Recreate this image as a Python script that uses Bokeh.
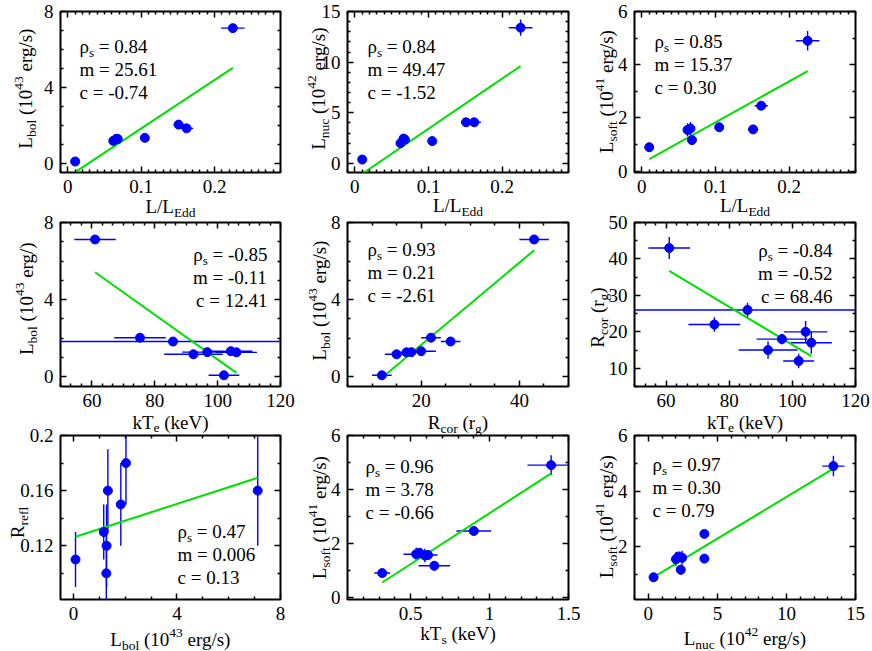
import math
from bokeh.plotting import figure
from bokeh.layouts import gridplot, column
from bokeh.models import (FixedTicker, LinearAxis, Label, Range1d, NumeralTickFormatter,
                          CustomJSTickFormatter)
from bokeh.embed import file_html
from bokeh.resources import INLINE

FONT = "Liberation Serif"
BLUE = "#0000ff"
GREEN = "#00e000"

# ---------------- data: eight sources ----------------
l_edd    = [0.225, 0.151, 0.162, 0.062, 0.066, 0.010, 0.105, 0.068]
l_edd_e  = [0.016, 0.007, 0.009, 0.003, 0.003, 0.002, 0.004, 0.003]
l_bol    = [7.12, 2.03, 1.83, 1.17, 1.28, 0.08, 1.33, 1.27]
l_bol_e  = [0.10, 0.06, 0.06, 0.05, 0.05, 0.03, 0.05, 0.05]
l_nuc    = [13.4, 4.06, 4.06, 2.00, 2.45, 0.38, 2.20, 2.35]
l_nuc_e  = [0.80, 0.30, 0.30, 0.10, 0.10, 0.05, 0.10, 0.10]
l_soft   = [4.90, 1.57, 2.46, 1.55, 1.60, 0.90, 1.65, 1.17]
l_soft_e = [0.37, 0.15, 0.10, 0.25, 0.25, 0.06, 0.12, 0.18]
kte      = [61.0, 75.3, 85.8, 92.3, 96.7, 102.0, 104.2, 106.0]
kte_e    = [6.6, 8.2, 150.0, 9.3, 8.0, 4.9, 6.9, 6.5]
r_cor    = [43.0, 22.0, 26.0, 15.0, 18.0, 12.0, 20.0, 17.0]
r_cor_e  = [3.0, 2.0, 2.0, 2.4, 1.5, 2.0, 3.0, 3.0]
kts      = [1.39, 0.61, 0.90, 0.59, 0.535, 0.32, 0.556, 0.65]
kts_e    = [0.15, 0.06, 0.11, 0.05, 0.08, 0.05, 0.05, 0.10]
r_refl   = [0.16, 0.18, 0.15, 0.13, 0.12, 0.11, 0.16, 0.10]
r_refl_e = [0.04, 0.03, 0.03, 0.02, 0.03, 0.02, 0.03, 0.03]

# printed statistics per panel
rho_txt   = ["0.84", "0.84", "0.85", "-0.85", "0.93", "-0.84", "0.47", "0.96", "0.97"]
slope_txt = ["25.61", "49.47", "15.37", "-0.11", "0.21", "-0.52", "0.006", "3.78", "0.30"]
icpt_txt  = ["-0.74", "-1.52", "0.30", "12.41", "-2.61", "68.46", "0.13", "-0.66", "0.79"]
# fitted lines as drawn
slope = [25.61, 49.47, 15.37, -0.116, 0.213, -0.52, 0.00607, 3.78, 0.30]
icpt  = [-0.74, -1.52, 0.30, 12.50, -2.60, 68.46, 0.1261, -0.66, 0.79]

pairs = [
    (l_edd, l_edd_e, l_bol, l_bol_e),
    (l_edd, l_edd_e, l_nuc, l_nuc_e),
    (l_edd, l_edd_e, l_soft, l_soft_e),
    (kte, kte_e, l_bol, l_bol_e),
    (r_cor, r_cor_e, l_bol, l_bol_e),
    (kte, kte_e, r_cor, r_cor_e),
    (l_bol, l_bol_e, r_refl, r_refl_e),
    (kts, kts_e, l_soft, l_soft_e),
    (l_nuc, l_nuc_e, l_soft, l_soft_e),
]

xranges = [(-0.01, 0.29)] * 3 + [(50, 120), (5, 50), (50, 120), (-0.5, 8), (0.1, 1.5), (-1, 15)]
yranges = [(-0.5, 8), (-0.9, 15), (-0.05, 6), (-0.5, 8), (-0.5, 8), (5, 50),
           (0.081, 0.2), (-0.08, 6), (0.1, 6)]
xmajor = [[0, 0.1, 0.2]] * 3 + [[60, 80, 100, 120], [20, 40], [60, 80, 100, 120],
                                [0, 4, 8], [0.5, 1, 1.5], [0, 5, 10, 15]]
xminor_step = [0.01] * 3 + [20 / 6, 5, 20 / 6, 1, 0.1, 1]
ymajor = [[0, 4, 8], [0, 5, 10, 15], [0, 2, 4, 6], [0, 4, 8], [0, 4, 8],
          [10, 20, 30, 40, 50], [0.12, 0.16, 0.2], [0, 2, 4, 6], [2, 4, 6]]
yminor_step = [1, 1, 1, 1, 1, 5, 0.02, 1, 1]

LB = [("L", "n"), ("bol", "sub"), (" (10", "n"), ("43", "sup"), (" erg/s)", "n")]
LN = [("L", "n"), ("nuc", "sub"), (" (10", "n"), ("42", "sup"), (" erg/s)", "n")]
LS = [("L", "n"), ("soft", "sub"), (" (10", "n"), ("41", "sup"), (" erg/s)", "n")]
LE = [("L/L", "n"), ("Edd", "sub")]
KE = [("kT", "n"), ("e", "sub"), (" (keV)", "n")]
KS = [("kT", "n"), ("s", "sub"), (" (keV)", "n")]
RC = [("R", "n"), ("cor", "sub"), (" (r", "n"), ("g", "sub"), (")", "n")]
LB2 = [("L", "n"), ("bol", "sub"), (" (10", "n"), ("43", "sup"), (" erg/)", "n")]
RR = [("R", "n"), ("refl", "sub")]

xlabels = [LE, LE, LE, KE, RC, KE, LB, KS, LN]
ylabels = [LB, LN, LS, LB2, LB, RC, RR, LS, LS]

# ---------------- layout (page pixels, page has no margin) ----------------
PAGE_W, PAGE_H = 872, 651
col_b = [0, 295, 585, 872]
row_b = [0, 205, 420, 651]
col_l = [60, 347, 634]
col_r = [280, 568, 855]
row_t = [11, 222, 435]
row_btm = [172, 386, 599]

xlab_base = [206, 205, 205, 422, 422, 422, 639, 633, 638]
ylab_base = [25, 318, 606, 26, 319, 597, 17, 319, 606]
ylab_mid = [88, 88, 91, 298, 300, 317, 522, 517, 516]
ann = [("left", 79, 46), ("left", 367, 46), ("left", 654, 41), ("right", 267, 254),
       ("left", 367, 249), ("right", 832, 250), ("left", 177, 531), ("left", 365, 466),
       ("left", 652, 464)]
ANN_STEP = 23

W = {' ': 250, '(': 333, ')': 333, '/': 278, '.': 250, '-': 333, '=': 564,
     'L': 611, 'R': 667, 'E': 611, 'T': 611, 'V': 722,
     'a': 444, 'b': 500, 'c': 444, 'd': 500, 'e': 444, 'f': 333, 'g': 500, 'k': 500,
     'l': 278, 'm': 778, 'n': 500, 'o': 500, 'r': 333, 's': 389, 't': 278, 'u': 500,
     'ρ': 500}


def tw(s, size):
    return sum(W.get(ch, 500) for ch in s) * size / 1000.0


SUB_DY = 5.5
SUP_DY = 7.0


def put_frags(p, frags, sx, sy, size, small, align="left", vertical=False):
    sizes = [size if k == "n" else small for _, k in frags]
    widths = [tw(t, s) for (t, _), s in zip(frags, sizes)]
    total = sum(widths)
    cum = {"left": 0.0, "center": -total / 2, "right": -total}[align]
    for (t, k), s, w in zip(frags, sizes, widths):
        lead = len(t) - len(t.lstrip(" "))
        txt = t.strip(" ")
        off = cum + tw(" " * lead, s)
        shift = {"n": 0.0, "sub": -SUB_DY, "sup": SUP_DY}[k]
        if vertical:
            lab = Label(x=sx - shift, y=sy + off, angle=math.pi / 2, text=txt)
        else:
            lab = Label(x=sx + off, y=sy + shift, text=txt)
        lab.x_units = "screen"
        lab.y_units = "screen"
        lab.text_font = FONT
        lab.text_font_size = f"{s}px"
        lab.text_align = "left"
        lab.text_baseline = "alphabetic"
        lab.text_color = "black"
        p.add_layout(lab)
        cum += w


def minor_list(lo, hi, step, majors):
    out = []
    k = math.ceil((lo - 1e-9) / step)
    while k * step <= hi + 1e-9:
        v = round(k * step, 6)
        if all(abs(v - m) > 1e-6 for m in majors):
            out.append(v)
        k += 1
    return out


def style_axis(ax, ticker, show_labels=True):
    ax.ticker = ticker
    ax.axis_line_color = None
    ax.major_tick_in = 6
    ax.major_tick_out = 0
    ax.minor_tick_in = 3
    ax.minor_tick_out = 0
    ax.major_tick_line_width = 1.5
    ax.minor_tick_line_width = 1.5
    ax.major_tick_line_color = "black"
    ax.minor_tick_line_color = "black"
    ax.major_label_text_font = FONT
    if show_labels:
        ax.major_label_text_font_size = "19px"
        ax.major_label_text_color = "black"
        ax.major_label_standoff = 7
        ax.formatter = NumeralTickFormatter(format="0.[00]")
    else:
        ax.major_label_text_font_size = "1px"
        ax.major_label_standoff = 0
        ax.formatter = CustomJSTickFormatter(code="return ''")


# transparent overlay figure that carries the composed axis titles (sub/superscripts)
overlay = figure(width=PAGE_W, height=PAGE_H, output_backend="svg", toolbar_location=None,
                 x_range=Range1d(0, 1), y_range=Range1d(0, 1),
                 x_axis_location=None, y_axis_location=None,
                 min_border_left=0, min_border_right=0, min_border_top=0, min_border_bottom=0,
                 margin=(-(row_b[-1] - row_b[0]), 0, 0, 0))
overlay.grid.visible = False
overlay.outline_line_color = None
overlay.background_fill_alpha = 0
overlay.border_fill_alpha = 0


def ov_x(px):
    return px


def ov_y(py):
    return PAGE_H - py


figs = []
for i in range(9):
    r, c = divmod(i, 3)
    fw = col_b[c + 1] - col_b[c]
    fh = row_b[r + 1] - row_b[r]
    fl, fr, ft, fb = col_l[c], col_r[c], row_t[r], row_btm[r]
    p = figure(width=fw, height=fh, output_backend="svg", toolbar_location=None,
               x_range=Range1d(*xranges[i]), y_range=Range1d(*yranges[i]),
               min_border_left=fl - col_b[c], min_border_right=col_b[c + 1] - fr,
               min_border_top=ft - row_b[r], min_border_bottom=row_b[r + 1] - fb)
    p.grid.visible = False
    p.outline_line_color = "black"
    p.outline_line_width = 2
    p.background_fill_color = "white"
    p.border_fill_color = "white"

    xt = FixedTicker(ticks=xmajor[i], minor_ticks=minor_list(*xranges[i], xminor_step[i], xmajor[i]))
    yt = FixedTicker(ticks=ymajor[i], minor_ticks=minor_list(*yranges[i], yminor_step[i], ymajor[i]))
    style_axis(p.xaxis[0], xt)
    style_axis(p.yaxis[0], yt)
    top = LinearAxis()
    right = LinearAxis()
    style_axis(top, FixedTicker(ticks=xmajor[i], minor_ticks=xt.minor_ticks), False)
    style_axis(right, FixedTicker(ticks=ymajor[i], minor_ticks=yt.minor_ticks), False)
    p.add_layout(top, "above")
    p.add_layout(right, "right")

    x, xe, y, ye = pairs[i]
    p.segment(x0=[a - b for a, b in zip(x, xe)], x1=[a + b for a, b in zip(x, xe)],
              y0=y, y1=y, line_color=BLUE, line_width=1.4)
    p.segment(x0=x, x1=x, y0=[a - b for a, b in zip(y, ye)], y1=[a + b for a, b in zip(y, ye)],
              line_color=BLUE, line_width=1.4)
    xa, xb = min(x), max(x)
    p.line(x=[xa, xb], y=[slope[i] * xa + icpt[i], slope[i] * xb + icpt[i]],
           line_color=GREEN, line_width=2)
    p.scatter(x=x, y=y, size=9, fill_color=BLUE, line_color=BLUE)

    # axis titles on the overlay
    put_frags(overlay, xlabels[i], ov_x((fl + fr) / 2), ov_y(xlab_base[i]), 19, 13.5, "center")
    put_frags(overlay, ylabels[i], ov_x(ylab_base[i]), ov_y(ylab_mid[i]), 19, 13.5, "center",
              vertical=True)

    # statistics annotation inside the frame
    al, ax_, ay = ann[i]
    lines = [[("ρ", "n"), ("s", "sub"), (" = " + rho_txt[i], "n")],
             [("m = " + slope_txt[i], "n")],
             [("c = " + icpt_txt[i], "n")]]
    for j, fr_ in enumerate(lines):
        put_frags(p, fr_, ax_ - fl, fb - (ay + j * ANN_STEP), 19, 13, al)
    figs.append(p)

grid = gridplot([figs[0:3], figs[3:6], figs[6:9]], toolbar_location=None)
page = column(grid, overlay, spacing=0)
open("out.html", "w").write(file_html(page, INLINE))
